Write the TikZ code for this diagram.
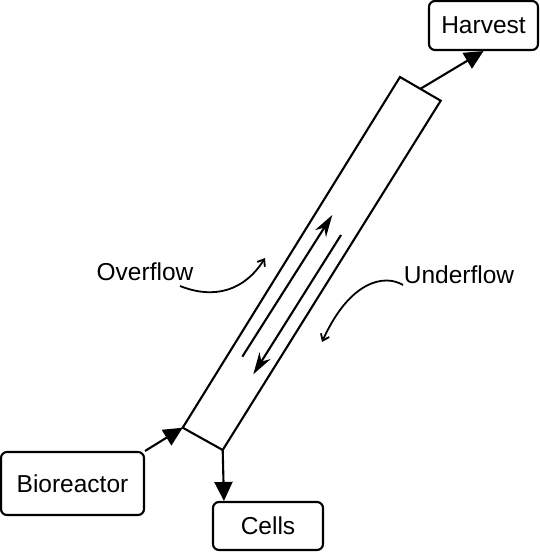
\documentclass[tikz,border=0pt]{standalone}
\usepackage{fontspec}
\setmainfont{Liberation Sans}
\usetikzlibrary{arrows.meta,calc}

\begin{document}
\begin{tikzpicture}[x=1pt, y=-1pt, line width=2.1pt,
		box/.style={draw, rounded corners=6pt, inner sep=0pt},
		flow/.style={-{Triangle[length=19pt, width=18pt]}},
		inner/.style={-{Stealth[length=22pt, width=13pt, inset=7pt]}},
		label/.style={-{Straight Barb[length=6pt, width=9pt]}, line width=1.8pt},
		every node/.style={font=\fontsize{24.5}{28}\selectfont}]
			      \useasboundingbox (0,0) rectangle (540,552);
			      \node[box, minimum width=109pt, minimum height=49pt] (harvest) at (483.5,25.5) {Harvest};
			      \node[box, minimum width=143pt, minimum height=63pt] (bio) at (72.5,483.5) {Bioreactor};
			      \node[box, minimum width=110pt, minimum height=48pt] (cells) at (268,526) {Cells};
			      \node (over) at (145,272) {Overflow};
			      \node (under) at (459,275) {Underflow};
			      \coordinate (T1) at (182.7,427.7);
			      \coordinate (T2) at (222.7,450);
			      \coordinate (T3) at (440.7,100.7);
			      \coordinate (T4) at (400,77);
			      \draw (T1) -- (T2) -- (T3) -- (T4) -- cycle;
			      \draw[flow] (bio.north east) -- (T1);
			      \draw[flow] (T2) -- ($(cells.north west)+(12,0)$);
			      \draw[flow] ($(T4)!.5!(T3)$) -- (harvest.south);
			      \coordinate (U1) at (242.3,356.7);
			      \coordinate (U2) at (332.3,215);
			      \coordinate (D1) at (341,235);
			      \coordinate (D2) at (253.3,374.3);
			      \draw[inner] (U1) -- (U2);
			      \draw[inner] (D1) -- (D2);
			      \coordinate (O1) at (180,286);
			      \coordinate (O2) at (265,258);
			      \coordinate (N1) at (403,285);
			      \coordinate (N2) at (322,342);
			      \draw[label] (O1) .. controls (215,300) and (245,290) .. (O2);
			      \draw[label] (N1) .. controls (385,274) and (350,280) .. (N2);
		      \end{tikzpicture}
\end{document}
